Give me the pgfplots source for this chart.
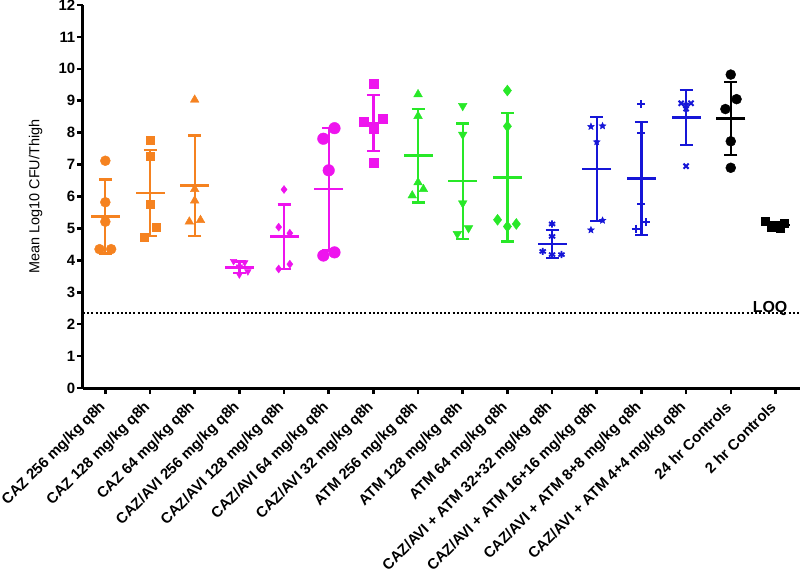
\documentclass[border=0pt]{standalone}
\usepackage{fontspec}
\setmainfont{Liberation Sans}
\usepackage{pgfplots}
\pgfplotsset{compat=1.18}
\definecolor{cOr}{RGB}{245,130,32}
\definecolor{cMa}{RGB}{238,20,238}
\definecolor{cGr}{RGB}{40,232,40}
\definecolor{cBl}{RGB}{22,22,215}
\pgfdeclareplotmark{fstar}{%
  \pgfpathmoveto{\pgfpointpolar{90}{\pgfplotmarksize}}%
  \pgfpathlineto{\pgfpointpolar{126}{0.45\pgfplotmarksize}}%
  \pgfpathlineto{\pgfpointpolar{162}{\pgfplotmarksize}}%
  \pgfpathlineto{\pgfpointpolar{198}{0.45\pgfplotmarksize}}%
  \pgfpathlineto{\pgfpointpolar{234}{\pgfplotmarksize}}%
  \pgfpathlineto{\pgfpointpolar{270}{0.45\pgfplotmarksize}}%
  \pgfpathlineto{\pgfpointpolar{306}{\pgfplotmarksize}}%
  \pgfpathlineto{\pgfpointpolar{342}{0.45\pgfplotmarksize}}%
  \pgfpathlineto{\pgfpointpolar{18}{\pgfplotmarksize}}%
  \pgfpathlineto{\pgfpointpolar{54}{0.45\pgfplotmarksize}}%
  \pgfpathclose\pgfusepathqfillstroke}
\pgfplotsset{
  msd/.style={only marks, mark=-, mark size=14.5bp, mark options={line width=2.5bp, solid},
    error bars/.cd, y dir=both, y explicit,
    error mark options={rotate=90, mark size=6.5bp, line width=2.3bp},
    error bar style={line width=2.3bp}},
  pts/.style={only marks, mark options={solid}},
}
\begin{document}
\begin{tikzpicture}
\begin{axis}[
  scale only axis, width=717bp, height=383bp,
  xmin=-0.5, xmax=15.55, ymin=0, ymax=12,
  axis x line=bottom, axis y line=left,
  axis line style={line width=3bp, -},
  every outer x axis line/.append style={-},
  every outer y axis line/.append style={-},
  xtick={0,...,15}, ytick={0,...,12},
  xticklabels={CAZ 256 mg/kg q8h, CAZ 128 mg/kg q8h, CAZ 64 mg/kg q8h,
    CAZ/AVI 256 mg/kg q8h, CAZ/AVI 128 mg/kg q8h, CAZ/AVI 64 mg/kg q8h,
    CAZ/AVI 32 mg/kg q8h, ATM 256 mg/kg q8h, ATM 128 mg/kg q8h, ATM 64 mg/kg q8h,
    CAZ/AVI + ATM 32+32 mg/kg q8h, CAZ/AVI + ATM 16+16 mg/kg q8h,
    CAZ/AVI + ATM 8+8 mg/kg q8h, CAZ/AVI + ATM 4+4 mg/kg q8h,
    24 hr Controls, 2 hr Controls},
  tick align=outside, major tick length=6bp,
  tick style={line width=2.5bp, black},
  /pgf/number format/assume math mode=true,
  xticklabel style={xshift=-1.5bp, yshift=-10bp, rotate=45, anchor=east, font=\fontsize{15}{18}\selectfont\bfseries, inner sep=1bp},
  yticklabel style={font=\fontsize{15}{18}\selectfont\bfseries, inner sep=1.5bp},
  ylabel={Mean Log10 CFU/Thigh},
  ylabel style={at={(axis description cs:-0.066,0.5)}, anchor=center, rotate=0, font=\fontsize{14.5}{17}\selectfont},
  clip=false,
]
% LOQ
\addplot[black, line width=2bp, dash pattern=on 2bp off 2.2bp] coordinates {(-0.5,2.35) (15.55,2.35)};
\node[font=\fontsize{16}{19}\selectfont\bfseries, anchor=base, inner sep=0pt] at (axis cs:14.88,2.38) {LOQ};
% G0
\addplot[cOr, pts, mark=*, mark size=5bp] coordinates {(0,7.12) (0,5.82) (0,5.21) (-0.13,4.35) (0.13,4.35)};
\addplot[cOr, msd] coordinates {(0,5.37) +- (0,1.16)};
% G1
\addplot[cOr, pts, mark=square*, mark size=4bp] coordinates {(1,7.75) (1,7.27) (1,5.75) (1.13,5.04) (0.88,4.74)};
\addplot[cOr, msd] coordinates {(1,6.11) +- (0,1.34)};
% G2
\addplot[cOr, pts, mark=triangle*, mark size=5bp] coordinates {(2,9.03) (2,6.23) (2,5.87) (1.88,5.21) (2.13,5.26)};
\addplot[cOr, msd] coordinates {(2,6.34) +- (0,1.57)};
% G3
\addplot[cMa, pts, mark=triangle*, mark size=3.8bp, mark options={rotate=180}] coordinates {(2.87,3.97) (3.12,3.93) (3,3.80) (3.19,3.65) (3,3.55)};
\addplot[cMa, msd] coordinates {(3,3.78) +- (0,0.18)};
% G4
\addplot[cMa, pts, mark=diamond*, mark size=4bp] coordinates {(4,6.22) (3.88,5.04) (4.13,4.85) (4.13,3.88) (3.88,3.73)};
\addplot[cMa, msd] coordinates {(4,4.74) +- (0,1.01)};
% G5
\addplot[cMa, pts, mark=*, mark size=5.8bp] coordinates {(5.13,8.14) (4.88,7.81) (5,6.82) (4.88,4.15) (5.13,4.25)};
\addplot[cMa, msd] coordinates {(5,6.23) +- (0,1.92)};
% G6
\addplot[cMa, pts, mark=square*, mark size=4.6bp] coordinates {(6,9.53) (5.78,8.35) (6.2,8.43) (6,8.13) (6,7.05)};
\addplot[cMa, msd] coordinates {(6,8.30) +- (0,0.88)};
% G7
\addplot[cGr, pts, mark=triangle*, mark size=5bp] coordinates {(7,9.20) (7,8.52) (7,6.44) (6.87,6.03) (7.12,6.23)};
\addplot[cGr, msd] coordinates {(7,7.28) +- (0,1.47)};
% G8
\addplot[cGr, pts, mark=triangle*, mark size=5bp, mark options={rotate=180}] coordinates {(8,8.84) (8,7.94) (8,5.79) (7.88,4.83) (8.13,5.01)};
\addplot[cGr, msd] coordinates {(8,6.48) +- (0,1.81)};
% G9
\addplot[cGr, pts, mark=diamond*, mark size=5.5bp] coordinates {(9,9.32) (9,8.20) (8.78,5.27) (9,5.06) (9.2,5.14)};
\addplot[cGr, msd] coordinates {(9,6.60) +- (0,2.01)};
% G10
\addplot[cBl, pts, mark=asterisk, mark size=3.6bp, mark options={line width=1.8bp}] coordinates {(10,5.14) (10,4.75) (9.79,4.28) (10,4.18) (10.21,4.18)};
\addplot[cBl, msd] coordinates {(10,4.51) +- (0,0.43)};
% G11
\addplot[cBl, pts, mark=fstar, mark size=3.6bp] coordinates {(10.87,8.19) (11.13,8.21) (11,7.71) (11.13,5.25) (10.87,4.95)};
\addplot[cBl, msd] coordinates {(11,6.86) +- (0,1.62)};
% G12
\addplot[cBl, pts, mark=+, mark size=4bp, mark options={line width=2bp}] coordinates {(12,8.89) (12,8.00) (12,5.76) (12.11,5.19) (11.87,4.99)};
\addplot[cBl, msd] coordinates {(12,6.57) +- (0,1.77)};
% G13
\addplot[cBl, pts, mark=x, mark size=3.6bp, mark options={line width=2bp}] coordinates {(12.89,8.92) (13.11,8.92) (13,8.85) (13,8.75) (13,6.95)};
\addplot[cBl, msd] coordinates {(13,8.48) +- (0,0.86)};
% G14
\addplot[black, pts, mark=*, mark size=5bp] coordinates {(14,9.82) (14.13,9.05) (13.88,8.74) (14,7.73) (14,6.90)};
\addplot[black, msd] coordinates {(14,8.45) +- (0,1.14)};
% G15
\addplot[black, pts, mark=square*, mark size=4bp] coordinates {(14.78,5.22) (15,5.10) (15.2,5.15) (14.9,5.05) (15.1,5.02)};
\addplot[black, msd] coordinates {(15,5.11) +- (0,0.08)};
\end{axis}
\pgfresetboundingbox
\path[use as bounding box] (-83bp,-188bp) rectangle (717bp,388bp);
\end{tikzpicture}
\end{document}
